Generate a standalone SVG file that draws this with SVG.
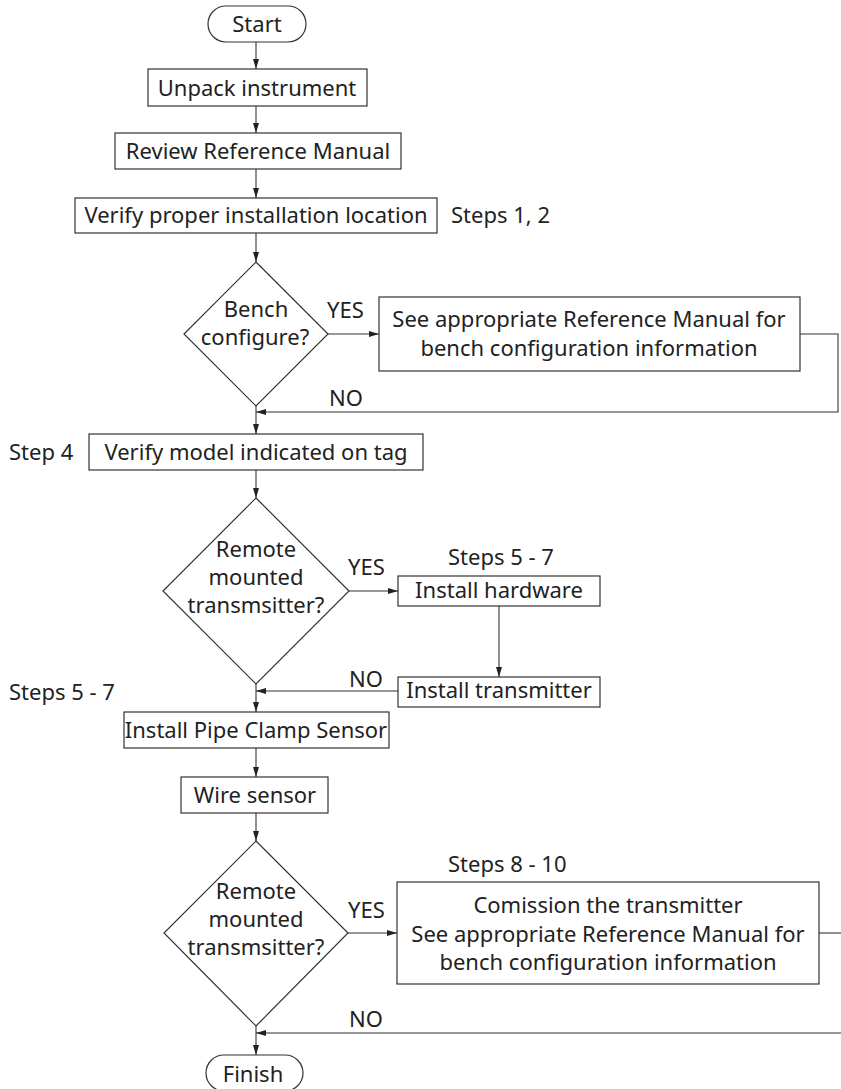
<svg xmlns="http://www.w3.org/2000/svg" width="841" height="1089" viewBox="0 0 841 1089">
<style>
  .box { fill: #fff; stroke: #333; stroke-width: 1.2; }
  .t { font-family: "Noto Sans", "Liberation Sans", sans-serif; font-size: 22px; fill: #222; }
  .m { text-anchor: middle; }
  .c { fill: none; stroke: #333; stroke-width: 1.1; }
  .g { fill: none; stroke: #777; stroke-width: 1.6; }
</style>
<defs>
  <marker id="arr" markerUnits="userSpaceOnUse" markerWidth="10" markerHeight="6" refX="10" refY="3" orient="auto">
    <path d="M0,0 L10,3 L0,6 z" fill="#222"/>
  </marker>
</defs>
<rect width="841" height="1089" fill="#fff"/>
<g id="connectors">
  <path class="c" d="M256,42 V69" marker-end="url(#arr)"/>
  <path class="c" d="M256,106 V133" marker-end="url(#arr)"/>
  <path class="c" d="M256,169 V198" marker-end="url(#arr)"/>
  <path class="c" d="M256,233 V262" marker-end="url(#arr)"/>
  <path class="c" d="M328,334 H379" marker-end="url(#arr)"/>
  <path class="c" d="M800,334 H838 V412 H256" marker-end="url(#arr)"/>
  <path class="c" d="M256,406 V434" marker-end="url(#arr)"/>
  <path class="c" d="M256,470 V498" marker-end="url(#arr)"/>
  <path class="c" d="M349,591 H398" marker-end="url(#arr)"/>
  <path class="c" d="M499,606 V677" marker-end="url(#arr)"/>
  <path class="c" d="M398,691 H256" marker-end="url(#arr)"/>
  <path class="c" d="M256,684 V712" marker-end="url(#arr)"/>
  <path class="c" d="M256,748 V777" marker-end="url(#arr)"/>
  <path class="c" d="M256,813 V841" marker-end="url(#arr)"/>
  <path class="c" d="M348,933 H397" marker-end="url(#arr)"/>
  <path class="c" d="M819,933 H850"/>
  <path class="g" d="M850,1033 H256" marker-end="url(#arr)"/>
  <path class="c" d="M256,1026 V1055" marker-end="url(#arr)"/>
  <text class="t" x="327" y="318">YES</text>
  <text class="t" x="329" y="406">NO</text>
  <text class="t" x="348" y="575">YES</text>
  <text class="t" x="349" y="687">NO</text>
  <text class="t" x="348" y="918">YES</text>
  <text class="t" x="349" y="1027">NO</text>
</g>
<g id="start">
  <rect class="box" x="208" y="6" width="98" height="36" rx="18"/>
  <text class="t m" x="257" y="32">Start</text>
</g>
<g id="unpack">
  <rect class="box" x="148" y="69" width="219" height="37"/>
  <text class="t m" x="257" y="96">Unpack instrument</text>
</g>
<g id="review">
  <rect class="box" x="115" y="133" width="286" height="36"/>
  <text class="t m" x="258" y="159">Review Reference Manual</text>
</g>
<g id="verify-location">
  <rect class="box" x="75" y="198" width="362" height="35"/>
  <text class="t m" x="256" y="223">Verify proper installation location</text>
  <text class="t" x="451" y="223">Steps 1, 2</text>
</g>
<g id="bench-decision">
  <polygon class="box" points="256,262 328,334 256,406 184,334"/>
  <text class="t m" x="256" y="317">Bench</text>
  <text class="t m" x="255" y="345">configure?</text>
</g>
<g id="bench-info">
  <rect class="box" x="379" y="297" width="421" height="74"/>
  <text class="t m" x="589" y="327">See appropriate Reference Manual for</text>
  <text class="t m" x="589" y="356">bench configuration information</text>
</g>
<g id="verify-model">
  <rect class="box" x="89" y="434" width="334" height="36"/>
  <text class="t m" x="256" y="460">Verify model indicated on tag</text>
  <text class="t" x="9" y="460">Step 4</text>
</g>
<g id="remote-decision-1">
  <polygon class="box" points="256,498 349,591 256,684 163,591"/>
  <text class="t m" x="256" y="557">Remote</text>
  <text class="t m" x="256" y="585">mounted</text>
  <text class="t m" x="256" y="613">transmsitter?</text>
</g>
<g id="install-hardware">
  <rect class="box" x="398" y="576" width="202" height="30"/>
  <text class="t m" x="499" y="598">Install hardware</text>
  <text class="t" x="448" y="565">Steps 5 - 7</text>
</g>
<g id="install-transmitter">
  <rect class="box" x="398" y="677" width="202" height="30"/>
  <text class="t m" x="499" y="698">Install transmitter</text>
</g>
<g id="pipe-clamp">
  <rect class="box" x="124" y="712" width="265" height="36"/>
  <text class="t m" x="256" y="738">Install Pipe Clamp Sensor</text>
  <text class="t" x="9" y="700">Steps 5 - 7</text>
</g>
<g id="wire-sensor">
  <rect class="box" x="181" y="777" width="147" height="36"/>
  <text class="t m" x="255" y="803">Wire sensor</text>
</g>
<g id="remote-decision-2">
  <polygon class="box" points="256,841 348,933 256,1026 164,933"/>
  <text class="t m" x="256" y="899">Remote</text>
  <text class="t m" x="256" y="927">mounted</text>
  <text class="t m" x="256" y="955">transmsitter?</text>
</g>
<g id="commission">
  <rect class="box" x="397" y="882" width="422" height="102"/>
  <text class="t m" x="608" y="913">Comission the transmitter</text>
  <text class="t m" x="608" y="942">See appropriate Reference Manual for</text>
  <text class="t m" x="608" y="970">bench configuration information</text>
  <text class="t" x="448" y="872">Steps 8 - 10</text>
</g>
<g id="finish">
  <rect class="box" x="206" y="1055" width="97" height="36" rx="18"/>
  <text class="t m" x="253" y="1082">Finish</text>
</g>
</svg>
